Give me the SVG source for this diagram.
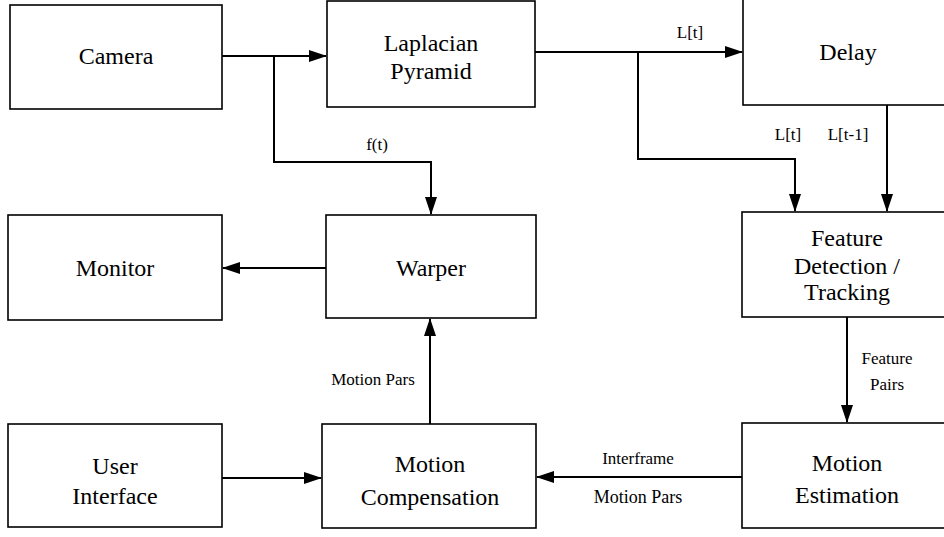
<svg xmlns="http://www.w3.org/2000/svg" width="944" height="537" viewBox="0 0 944 537">
<style>
.box{fill:#fff;stroke:#000;stroke-width:1.6}
text{font-family:'Liberation Serif','DejaVu Serif','Times New Roman',serif;text-anchor:middle;fill:#000}
.t{font-size:24px}
.l{font-size:17px}
.c{fill:none;stroke:#000;stroke-width:2}
</style>
<defs>
<marker id="ah" markerWidth="18" markerHeight="12" refX="17" refY="6" orient="auto" markerUnits="userSpaceOnUse">
<path d="M0,0 L18,6 L0,12 Z" fill="#000"/>
</marker>
</defs>
<g id="camera"><rect class="box" x="10" y="5" width="212" height="104"/><text class="t" x="116" y="64">Camera</text></g>
<g id="laplacian"><rect class="box" x="327" y="1" width="208" height="106"/><text class="t" x="431" y="51">Laplacian</text><text class="t" x="431" y="79">Pyramid</text></g>
<g id="delay"><rect class="box" x="743" y="-2" width="210" height="107"/><text class="t" x="848" y="60">Delay</text></g>
<g id="monitor"><rect class="box" x="8" y="215" width="214" height="105"/><text class="t" x="115" y="276">Monitor</text></g>
<g id="warper"><rect class="box" x="326" y="215" width="210" height="103"/><text class="t" x="431" y="276">Warper</text></g>
<g id="feature"><rect class="box" x="742" y="212" width="210" height="105"/><text class="t" x="847" y="246">Feature</text><text class="t" x="847" y="274">Detection /</text><text class="t" x="847" y="300">Tracking</text></g>
<g id="userinterface"><rect class="box" x="8" y="424" width="214" height="103"/><text class="t" x="115" y="474">User</text><text class="t" x="115" y="504">Interface</text></g>
<g id="motioncomp"><rect class="box" x="322" y="424" width="214" height="104"/><text class="t" x="430" y="472">Motion</text><text class="t" x="430" y="505">Compensation</text></g>
<g id="motionest"><rect class="box" x="742" y="423" width="210" height="105"/><text class="t" x="847" y="471">Motion</text><text class="t" x="847" y="503">Estimation</text></g>
<g id="connectors">
<path class="c" d="M222,56 H326" marker-end="url(#ah)"/>
<path class="c" d="M274,56 V162 H431 V214" marker-end="url(#ah)"/>
<path class="c" d="M535,52 H742" marker-end="url(#ah)"/>
<path class="c" d="M638,52 V159 H795 V211" marker-end="url(#ah)"/>
<path class="c" d="M887,105 V211" marker-end="url(#ah)"/>
<path class="c" d="M847,317 V422" marker-end="url(#ah)"/>
<path class="c" d="M742,477 H537" marker-end="url(#ah)"/>
<path class="c" d="M222,478 H321" marker-end="url(#ah)"/>
<path class="c" d="M430,424 V319" marker-end="url(#ah)"/>
<path class="c" d="M326,268 H223" marker-end="url(#ah)"/>
</g>
<g id="labels">
<text class="l" x="690" y="38">L[t]</text>
<text class="l" x="788" y="140">L[t]</text>
<text class="l" x="848" y="140">L[t-1]</text>
<text class="l" x="377" y="150">f(t)</text>
<text class="l" x="887" y="364">Feature</text>
<text class="l" x="887" y="390">Pairs</text>
<text class="l" x="373" y="385">Motion Pars</text>
<text class="l" x="638" y="464">Interframe</text>
<text class="l" x="638" y="503" style="font-size:18px">Motion Pars</text>
</g>
</svg>
